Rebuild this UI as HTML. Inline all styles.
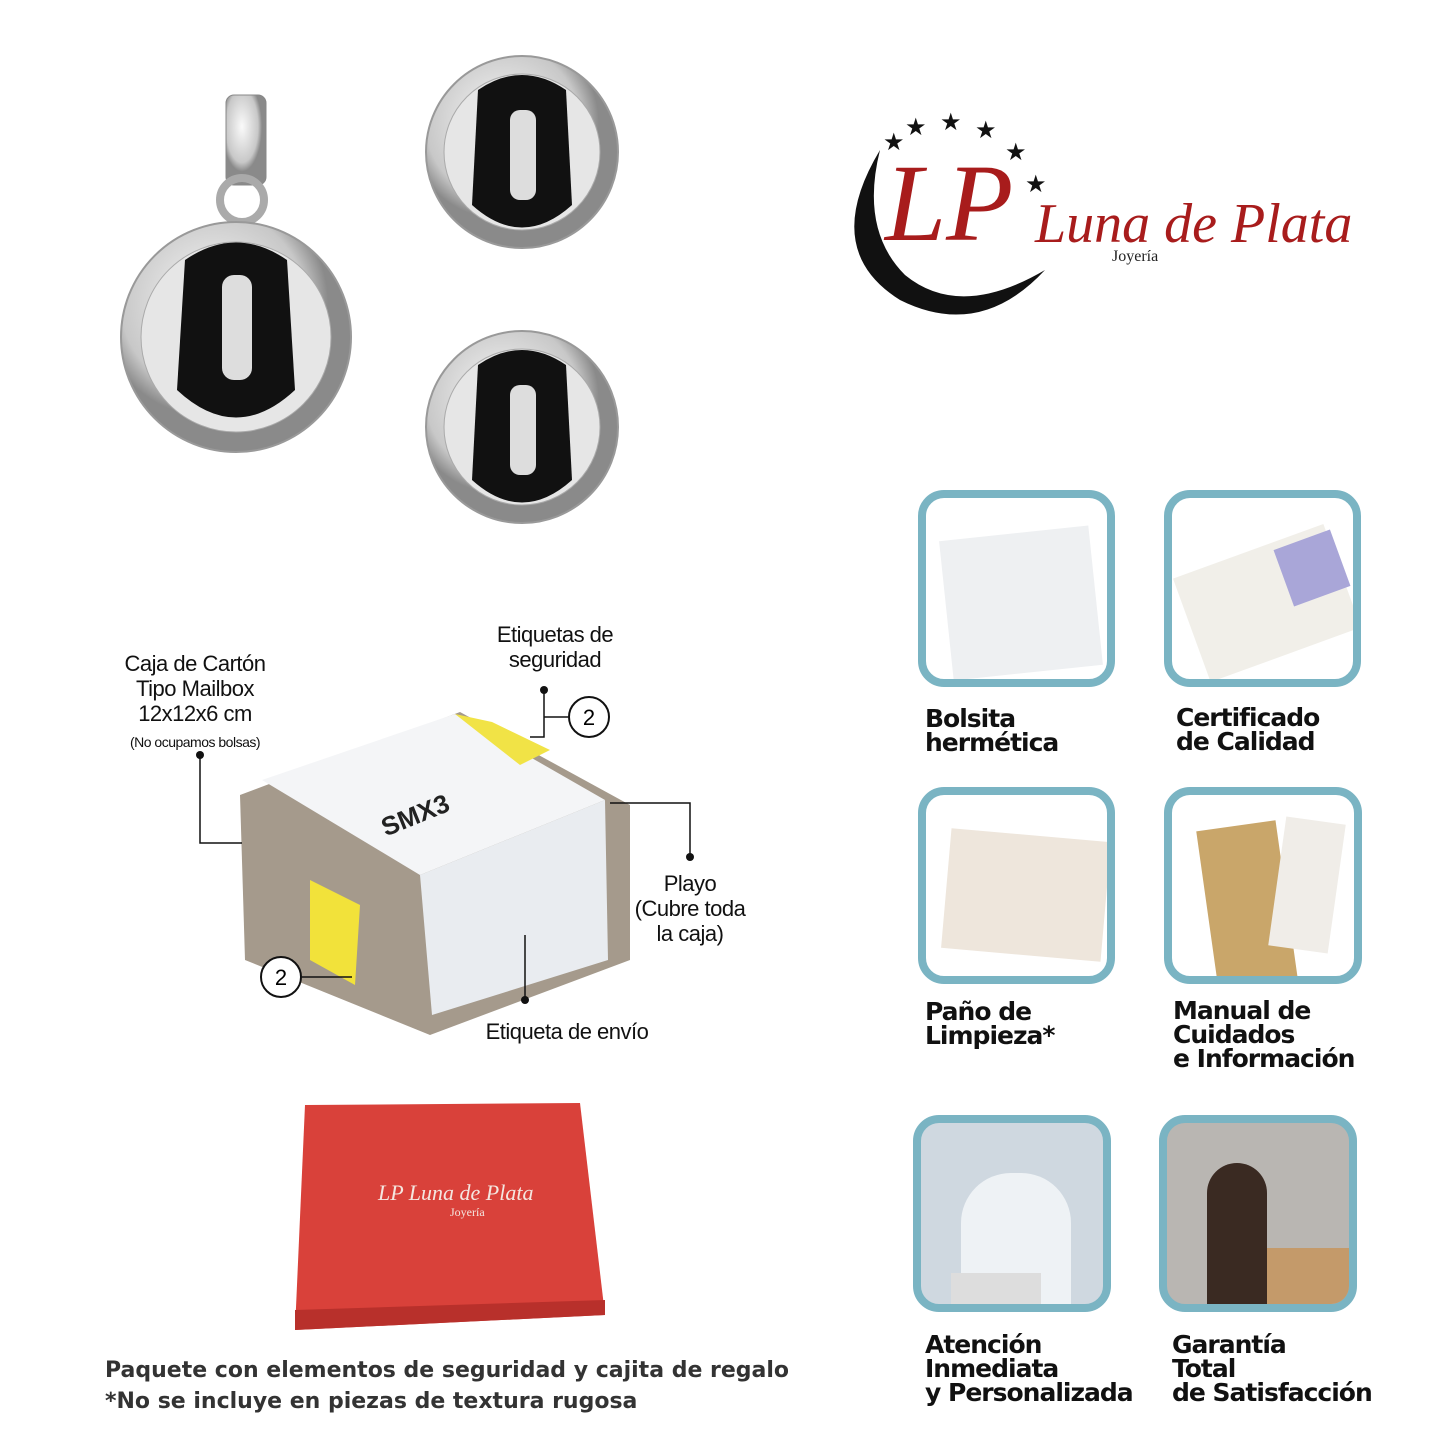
<!DOCTYPE html>
<html><head><meta charset="utf-8">
<style>
body{margin:0;width:1445px;height:1445px;background:#fff;position:relative;overflow:hidden;font-family:"Liberation Sans",sans-serif;}
.a{position:absolute}
.lbl{position:absolute;font-size:22px;color:#111;text-align:center;line-height:25px;letter-spacing:-0.5px}
.card{position:absolute;border:8px solid #7ab4c3;border-radius:26px;background:#fff;overflow:hidden;box-sizing:border-box}
.cap{position:absolute;font-size:25px;font-weight:bold;color:#111;line-height:24px;font-family:"DejaVu Sans","Liberation Sans",sans-serif;letter-spacing:-1px}
.bot{position:absolute;left:105px;font-size:22px;font-weight:bold;color:#333;font-family:"DejaVu Sans","Liberation Sans",sans-serif}
</style></head><body>

<svg class="a" style="left:0;top:0" width="1445" height="1445">
<defs>
<radialGradient id="sil" cx="40%" cy="35%"><stop offset="0" stop-color="#fafafa"/><stop offset="0.8" stop-color="#c8c8c8"/><stop offset="1" stop-color="#8a8a8a"/></radialGradient>
</defs>
<rect x="226" y="95" width="40" height="90" rx="8" fill="url(#sil)" stroke="#888"/>
<circle cx="242" cy="200" r="22" fill="none" stroke="#aaa" stroke-width="8"/>
<circle cx="236" cy="337" r="115" fill="url(#sil)" stroke="#999" stroke-width="2"/>
<circle cx="236" cy="337" r="95" fill="#e6e6e6" stroke="#aaa"/>
<path d="M185 260 Q236 225 287 260 L295 390 Q236 445 177 390 Z" fill="#111"/>
<rect x="222" y="275" width="30" height="105" rx="12" fill="#ddd"/>
<g>
<circle cx="522" cy="152" r="96" fill="url(#sil)" stroke="#999" stroke-width="2"/>
<circle cx="522" cy="152" r="78" fill="#e6e6e6" stroke="#aaa"/>
<path d="M478 90 Q522 60 566 90 L572 205 Q522 250 472 205 Z" fill="#111"/>
<rect x="510" y="110" width="26" height="90" rx="10" fill="#ddd"/>
</g>
<g>
<circle cx="522" cy="427" r="96" fill="url(#sil)" stroke="#999" stroke-width="2"/>
<circle cx="522" cy="427" r="78" fill="#e6e6e6" stroke="#aaa"/>
<path d="M478 365 Q522 335 566 365 L572 480 Q522 525 472 480 Z" fill="#111"/>
<rect x="510" y="385" width="26" height="90" rx="10" fill="#ddd"/>
</g>
<path d="M880 150 Q820 250 900 300 Q980 340 1045 270 Q960 320 905 275 Q860 230 880 150 Z" fill="#111"/>
<g fill="#111" font-size="24"><text x="883" y="150">★</text><text x="905" y="135">★</text><text x="940" y="130">★</text><text x="975" y="138">★</text><text x="1005" y="160">★</text><text x="1025" y="192">★</text></g>
<polygon points="240,795 460,712 630,805 630,960 430,1035 245,960" fill="#a59a8c"/>
<polygon points="262,780 455,714 605,800 420,875" fill="#f4f5f7"/>
<polygon points="420,875 605,800 608,960 432,1015" fill="#e9ecf0"/>
<polygon points="455,714 492,722 550,750 520,765" fill="#f1e346"/>
<polygon points="310,880 360,905 355,985 310,960" fill="#f2e23a"/>
<g stroke="#111" stroke-width="1.5" fill="none">
<polyline points="200,755 200,843 242,843"/>
<polyline points="544,690 544,737 530,737"/><line x1="544" y1="717" x2="568" y2="717"/>
<polyline points="610,803 690,803 690,857"/>
<line x1="302" y1="977" x2="352" y2="977"/>
<line x1="525" y1="935" x2="525" y2="1000"/>
</g>
<g fill="#111"><circle cx="200" cy="755" r="4"/><circle cx="544" cy="690" r="4"/><circle cx="690" cy="857" r="4"/><circle cx="525" cy="1000" r="4"/></g>
<g fill="#fff" stroke="#111" stroke-width="2"><circle cx="589" cy="717" r="20"/><circle cx="281" cy="977" r="20"/></g>
<g font-size="22" text-anchor="middle" font-family="Liberation Sans"><text x="589" y="725">2</text><text x="281" y="985">2</text></g>
<polygon points="305,1105 580,1103 605,1315 295,1330" fill="#d9413a"/>
<polygon points="295,1310 605,1300 605,1315 295,1330" fill="#b8302b"/>
</svg>

<div class="a" style="left:1035px;top:192px;font-family:'Liberation Serif',serif;font-size:56px;color:#a81c1c;font-style:italic">Luna de Plata</div>
<div class="a" style="left:885px;top:140px;font-family:'Liberation Serif',serif;font-size:110px;color:#a81c1c;font-style:italic">LP</div>
<div class="a" style="left:1112px;top:248px;font-family:'Liberation Serif',serif;font-size:16px;color:#222">Joyería</div>
<div class="a" style="left:378px;top:1180px;font-family:'Liberation Serif',serif;font-size:22px;color:#f4e6e0;font-style:italic">LP Luna de Plata</div>
<div class="a" style="left:450px;top:1205px;font-family:'Liberation Serif',serif;font-size:12px;color:#f4e6e0">Joyería</div>
<div class="a" style="left:380px;top:800px;font-size:26px;font-weight:bold;color:#222;transform:rotate(-22deg)">SMX3</div>

<div class="lbl" style="left:100px;top:651px;width:190px">Caja de Cartón<br>Tipo Mailbox<br>12x12x6 cm</div>
<div class="lbl" style="left:100px;top:730px;width:190px;font-size:14px">(No ocupamos bolsas)</div>
<div class="lbl" style="left:470px;top:622px;width:170px">Etiquetas de<br>seguridad</div>
<div class="lbl" style="left:620px;top:871px;width:140px">Playo<br>(Cubre toda<br>la caja)</div>
<div class="lbl" style="left:467px;top:1019px;width:200px">Etiqueta de envío</div>

<div class="card" style="left:918px;top:490px;width:197px;height:197px"><div class="a" style="left:20px;top:35px;width:150px;height:140px;background:#eef0f2;transform:rotate(-6deg)"></div></div>
<div class="card" style="left:1164px;top:490px;width:197px;height:197px"><div class="a" style="left:15px;top:50px;width:160px;height:110px;background:#f1efe9;transform:rotate(-20deg)"></div><div class="a" style="left:110px;top:40px;width:60px;height:60px;background:#a9a6d8;transform:rotate(-20deg)"></div></div>
<div class="card" style="left:918px;top:787px;width:197px;height:197px"><div class="a" style="left:20px;top:40px;width:160px;height:120px;background:#eee6dc;transform:rotate(5deg)"></div></div>
<div class="card" style="left:1164px;top:787px;width:198px;height:197px"><div class="a" style="left:35px;top:30px;width:80px;height:160px;background:#c9a66a;transform:rotate(-8deg)"></div><div class="a" style="left:105px;top:25px;width:60px;height:130px;background:#f0ede8;transform:rotate(8deg)"></div></div>
<div class="card" style="left:913px;top:1115px;width:198px;height:197px;background:#cfd8e0"><div class="a" style="left:40px;top:50px;width:110px;height:140px;background:#eef2f5;border-radius:50px 50px 0 0"></div><div class="a" style="left:30px;top:150px;width:90px;height:40px;background:#ddd"></div></div>
<div class="card" style="left:1159px;top:1115px;width:198px;height:197px;background:#b9b6b2"><div class="a" style="left:90px;top:125px;width:95px;height:60px;background:#c49a6a"></div><div class="a" style="left:40px;top:40px;width:60px;height:150px;background:#3a2a22;border-radius:30px 30px 0 0"></div></div>

<div class="cap" style="left:925px;top:707px">Bolsita<br>hermética</div>
<div class="cap" style="left:1176px;top:706px">Certificado<br>de Calidad</div>
<div class="cap" style="left:925px;top:1000px">Paño de<br>Limpieza*</div>
<div class="cap" style="left:1173px;top:999px">Manual de<br>Cuidados<br>e Información</div>
<div class="cap" style="left:925px;top:1333px">Atención<br>Inmediata<br>y Personalizada</div>
<div class="cap" style="left:1172px;top:1333px">Garantía<br>Total<br>de Satisfacción</div>

<div class="bot" style="top:1358px">Paquete con elementos de seguridad y cajita de regalo</div>
<div class="bot" style="top:1389px">*No se incluye en piezas de textura rugosa</div>
</body></html>
